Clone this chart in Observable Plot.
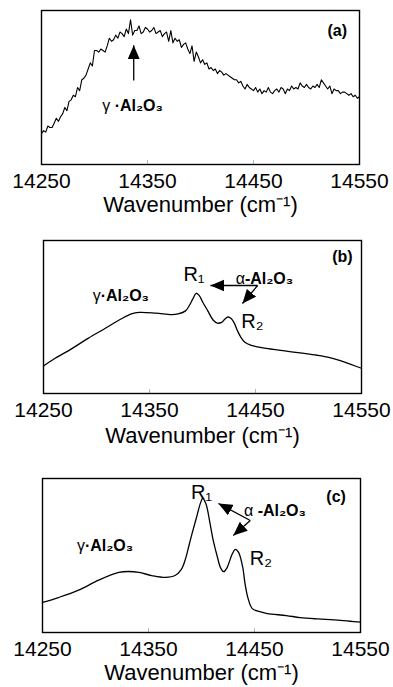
<!DOCTYPE html>
<html>
<head>
<meta charset="utf-8">
<script src="https://cdn.jsdelivr.net/npm/d3@7"></script>
<script src="https://cdn.jsdelivr.net/npm/@observablehq/plot@0.6"></script>
<style>
  body { margin: 0; background: #fff; }
  svg { display: block; }
</style>
</head>
<body>
<div id="chart"></div>
<script>
// ---------- shared axis ----------
const xDomain = [14250, 14550];
const xTicks = [14250, 14350, 14450, 14550];
const innerTicks = [14350, 14450];
const axisLabel = "Wavenumber (cm⁻¹)";

// ---------- panel (a): noisy spectrum, 2 cm-1 sampling ----------
const wavenumberA = d3.range(14250, 14551, 2);
const intensityA = [
  20,22,21,25,24,24,27,30,28,31,
  33,37,35,41,42,45,44,50,48,55,
  56,58,62,66,64,74,74,73,75,74,
  73,77,82,80,81,84,82,86,85,83,
  88,85,94,84,87,87,90,85,86,89,
  88,86,87,89,85,86,87,83,85,86,
  80,87,79,82,80,81,76,78,79,75,
  72,77,67,73,70,66,68,65,66,62,
  63,61,62,59,61,60,58,59,58,57,
  56,55,55,53,54,51,49,52,50,49,
  48,50,47,49,46,48,47,50,47,46,
  48,49,47,50,49,46,49,48,51,49,
  50,49,53,51,50,52,50,49,51,50,
  52,50,55,53,51,49,51,46,49,48,
  48,46,47,47,46,45,46,44,45,43,
  44
];

// ---------- panel (b) ----------
const wavenumberB = [14250,14261,14276,14292,14308,14324,14333,14340,14356,14371,14377,14384,14388,14391,14394,14397,14400,14405,14410,14414,14418,14421,14424,14427,14430,14433,14436,14440,14446,14452,14460,14476,14492,14508,14520,14530,14540,14550];
const intensityB  = [18,23,29,36,42.5,49,52,53,52.5,51.5,52,54,58,62,65.5,64,60,54,48,46,46.5,48.5,50,49,46,41,37,33.5,31.5,30.5,29.5,28,26.5,25,23.5,21.5,19,16.5];

// ---------- panel (c) ----------
const wavenumberC = [14250,14265,14284,14303,14322,14331,14341,14353,14366,14375,14381,14385,14388,14391,14395,14399,14401,14404,14408,14411,14415,14418,14421,14424,14429,14432,14435,14439,14441,14444,14448,14455,14462,14480,14493,14510,14525,14540,14550];
const intensityC  = [19.5,22.7,27.5,34,39,39.6,39,37,35.8,37,41,48,56,64,74,84,87,84,71,60,49,42,39.5,42,51,54,52,42,32,22,15.5,13.5,12.3,11,9.7,8.8,8.2,7.3,6.8];

// ---------- annotations (data units) ----------
const tagA = [{wn: 14529, v: 87, text: "(a)"}];
const tagB = [{wn: 14532, v: 89.5, text: "(b)"}];
const tagC = [{wn: 14527, v: 88, text: "(c)"}];

const phaseA = [{wn: 14319, v: 38, pre: "γ ", main: "·Al₂O₃"}];
const phaseB = [{wn: 14304, v: 64, pre: "γ", main: "·Al₂O₃"},
                {wn: 14440, v: 75, pre: "α", main: "-Al₂O₃"}];
const phaseC = [{wn: 14290, v: 56.5, pre: "γ", main: "·Al₂O₃"},
                {wn: 14453, v: 79, pre: "α ", main: "-Al₂O₃"}];

const peaksB = [{wn: 14392, v: 78, text: "R₁"}, {wn: 14447, v: 47, text: "R₂"}];
const peaksC = [{wn: 14400, v: 91, text: "R₁"}, {wn: 14456, v: 48, text: "R₂"}];

const arrowsA = [{wn1: 14337, v1: 54.5, wn2: 14337, v2: 77.5}];
const arrowsB = [{wn1: 14452, v1: 70.6, wn2: 14407.5, v2: 70.6},
                 {wn1: 14452, v1: 70.6, wn2: 14437.7, v2: 58.8}];
const arrowsC = [{wn1: 14446, v1: 72.7, wn2: 14416, v2: 83.8},
                 {wn1: 14446, v1: 72.7, wn2: 14430, v2: 63}];

const FONT = "'Liberation Sans', Arial, Helvetica, sans-serif";

function panel({wn, val, curve, strokeWidth, height, marginLeft, marginRight, marginBottom, frameH, tag, phases, peaks, arrows, labelDy}) {
  const data = wn.map((w, i) => ({wn: w, v: val[i]}));
  const svg = Plot.plot({
    width: 393,
    height,
    marginTop: 10,
    marginLeft,
    marginRight,
    marginBottom,
    style: {fontFamily: FONT, fontSize: "21px", color: "black", background: "white", overflow: "visible"},
    x: {domain: xDomain, ticks: xTicks, tickFormat: "d", tickSize: 0, tickPadding: 9, label: null},
    y: {domain: [0, 100], axis: null},
    marks: [
      Plot.ruleX(innerTicks, {insetTop: frameH - 4, stroke: "#b5b5b5"}),
      Plot.line(data, {x: "wn", y: "v", curve, stroke: "black", strokeWidth}),
      Plot.link(arrows, {x1: "wn1", y1: "v1", x2: "wn2", y2: "v2", stroke: "black", strokeWidth: 1.3, markerEnd: "arrow"}),
      Plot.text(tag, {x: "wn", y: "v", text: "text", fontWeight: "bold", fontSize: 16}),
      Plot.text(phases, {x: "wn", y: "v", text: "pre", textAnchor: "end", fontSize: 16}),
      Plot.text(phases, {x: "wn", y: "v", text: "main", textAnchor: "start", fontWeight: "bold", fontSize: 16}),
      Plot.text(peaks, {x: "wn", y: "v", text: "text", fontSize: 20}),
      Plot.text([axisLabel], {text: d => d, frameAnchor: "bottom", dy: labelDy, fontSize: 22}),
      Plot.frame({stroke: "black", strokeWidth: 1.4})
    ]
  });
  // filled triangular arrowheads
  svg.querySelectorAll("marker").forEach(m => {
    m.setAttribute("viewBox", "-14 -6 14 12");
    m.setAttribute("markerWidth", "14");
    m.setAttribute("markerHeight", "12");
    m.setAttribute("markerUnits", "userSpaceOnUse");
    m.setAttribute("refX", "0");
    m.setAttribute("refY", "0");
    m.setAttribute("orient", "auto");
    m.setAttribute("fill", "black");
    m.setAttribute("stroke", "none");
    while (m.firstChild) m.removeChild(m.firstChild);
    const p = document.createElementNS("http://www.w3.org/2000/svg", "path");
    p.setAttribute("d", "M-14,-6L0,0L-14,6Z");
    m.appendChild(p);
  });
  return svg;
}

const chart = document.getElementById("chart");
chart.appendChild(panel({
  wn: wavenumberA, val: intensityA, curve: "linear", strokeWidth: 1.1,
  height: 230, marginLeft: 41, marginRight: 34, marginBottom: 66, frameH: 154,
  tag: tagA, phases: phaseA, peaks: [], arrows: arrowsA, labelDy: 47
}));
chart.appendChild(panel({
  wn: wavenumberB, val: intensityB, curve: "catmull-rom", strokeWidth: 1.3,
  height: 238, marginLeft: 43, marginRight: 32, marginBottom: 75, frameH: 153,
  tag: tagB, phases: phaseB, peaks: peaksB, arrows: arrowsB, labelDy: 49
}));
chart.appendChild(panel({
  wn: wavenumberC, val: intensityC, curve: "catmull-rom", strokeWidth: 1.3,
  height: 219, marginLeft: 42, marginRight: 33, marginBottom: 55, frameH: 154,
  tag: tagC, phases: phaseC, peaks: peaksC, arrows: arrowsC, labelDy: 47
}));
</script>
</body>
</html>
